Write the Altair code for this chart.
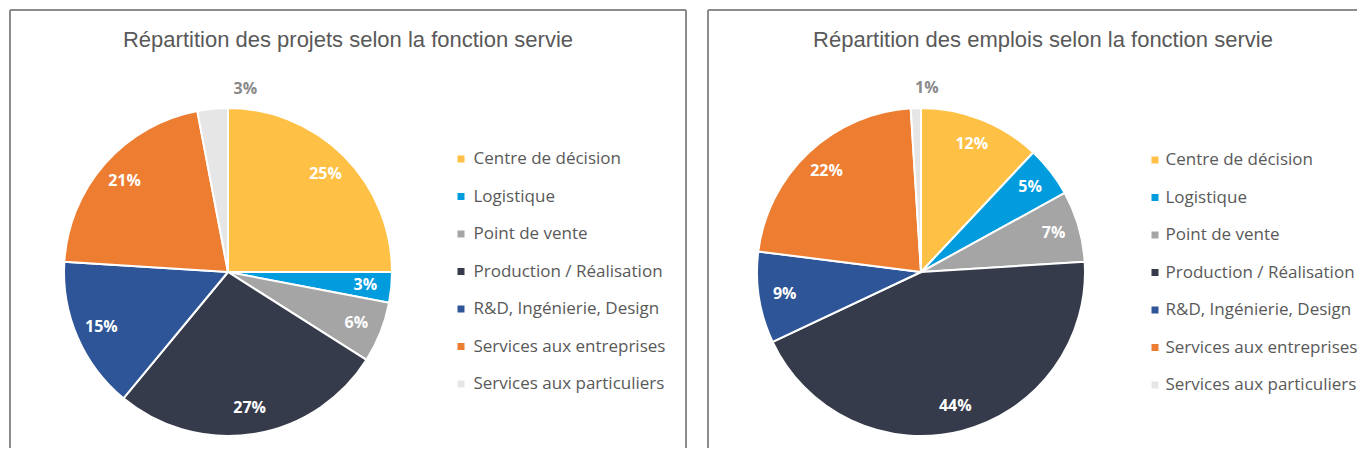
import altair as alt
import pandas as pd

cats = ["Centre de décision", "Logistique", "Point de vente", "Production / Réalisation",
        "R&D, Ingénierie, Design", "Services aux entreprises", "Services aux particuliers"]
colors = ["#FFC145", "#009CDE", "#A5A5A5", "#363B4B", "#2E5597", "#ED7D31", "#E7E6E6"]
projets = [25, 3, 6, 27, 15, 21, 3]
emplois = [12, 5, 7, 44, 9, 22, 1]
titles = ["Répartition des projets selon la fonction servie",
          "Répartition des emplois selon la fonction servie"]

FRAME = "#8c8c8c"
TXT = "#595959"


def pie(values, cx, cy, lx, ly, loff):
    df = pd.DataFrame({"cat": cats, "v": values, "idx": list(range(len(cats)))})
    base = alt.Chart(df)
    arcs = base.mark_arc(outerRadius=164, stroke="white", strokeWidth=2).encode(
        theta=alt.Theta("v:Q", stack=True),
        order=alt.Order("idx:Q"),
        color=alt.Color(
            "cat:N",
            scale=alt.Scale(domain=cats, range=colors),
            legend=alt.Legend(
                orient="none", legendX=lx, legendY=ly, title=None,
                symbolType="square", symbolSize=49, symbolStrokeWidth=0,
                labelFont="Open Sans", labelFontSize=17, labelColor=TXT,
                labelLimit=400,
                rowPadding=19.5, labelOffset=loff, padding=0,
            ),
        ),
        x=alt.value(cx), y=alt.value(cy),
    )
    labels = base.transform_calculate(
        label="datum.v + '%'",
        lr="datum.cat == 'Services aux particuliers' ? 184 : 138",
    ).mark_text(font="Open Sans", fontSize=16, fontWeight="bold",
                align="center", baseline="middle").encode(
        theta=alt.Theta("v:Q", stack=True),
        order=alt.Order("idx:Q"),
        detail="cat:N",
        radius=alt.Radius("lr:Q", scale=None),
        text="label:N",
        color=alt.condition("datum.cat == 'Services aux particuliers'",
                            alt.value("#8a8a8a"), alt.value("white")),
        x=alt.value(cx), y=alt.value(cy),
    )
    return arcs, labels


one = pd.DataFrame({"k": [0]})


def title(t, cx):
    return alt.Chart(pd.DataFrame({"t": [t]})).mark_text(
        font="Liberation Sans", fontSize=22, color=TXT, align="center",
        baseline="alphabetic").encode(text="t:N", x=alt.value(cx), y=alt.value(37))


def vrule(x):
    return alt.Chart(one).mark_rule(color=FRAME, strokeWidth=2).encode(
        x=alt.value(x), y=alt.value(0), y2=alt.value(480))


def hrule(x1, x2):
    return alt.Chart(one).mark_rule(color=FRAME, strokeWidth=2).encode(
        x=alt.value(x1), x2=alt.value(x2), y=alt.value(0))


a1, l1 = pie(projets, 218, 262, 442.5, 140.5, 4)
a2, l2 = pie(emplois, 911, 262, 1136.5, 141.5, 2)

chart = alt.layer(
    vrule(0), vrule(676), vrule(698), hrule(0, 676), hrule(698, 1400),
    title(titles[0], 338), title(titles[1], 1033),
    a1, l1, a2, l2,
).resolve_scale(color="independent").properties(
    width=1347, height=438,
    autosize=alt.AutoSizeParams(type="none"),
    padding={"left": 2, "top": 2, "right": 0, "bottom": 0},
    background="white",
).configure_view(stroke=None)

chart.save("out.html", embed_options={"renderer": "svg", "actions": False})
